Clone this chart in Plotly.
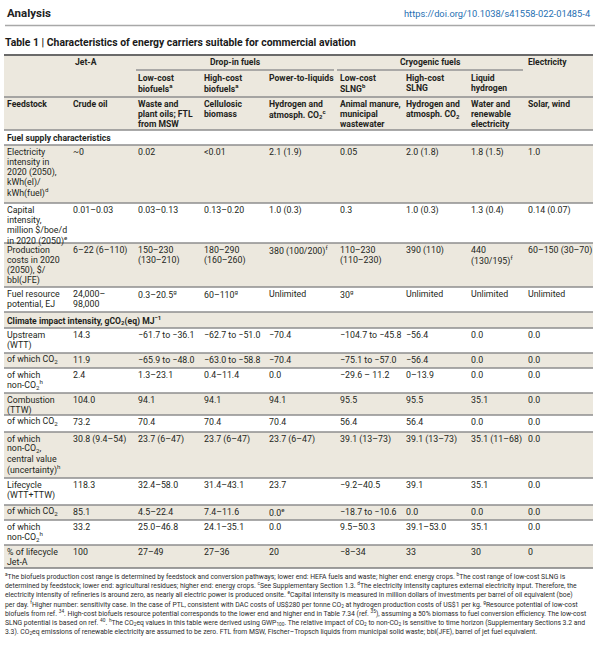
import plotly.graph_objects as go

W, H = 600, 646

# ---------------- data ----------------
page_header = "Analysis"
doi_text = "https://doi.org/10.1038/s41558-022-01485-4"
table_title = "Table 1 | Characteristics of energy carriers suitable for commercial aviation"

group_headers = ["Jet-A", "Drop-in fuels", "Cryogenic fuels", "Electricity"]
sub_headers = ["", "", "Low-cost<br>biofuels<sup>a</sup>", "High-cost<br>biofuels<sup>a</sup>",
               "Power-to-liquids", "Low-cost<br>SLNG<sup>b</sup>", "High-cost<br>SLNG",
               "Liquid<br>hydrogen", ""]
feedstock_row = ["Feedstock", "Crude oil", "Waste and<br>plant oils; FTL<br>from MSW",
                 "Cellulosic<br>biomass", "Hydrogen and<br>atmosph. CO<sub>2</sub><sup>c</sup>",
                 "Animal manure,<br>municipal<br>wastewater", "Hydrogen and<br>atmosph. CO<sub>2</sub>",
                 "Water and<br>renewable<br>electricity", "Solar, wind"]

section_titles = ["Fuel supply characteristics",
                  "Climate impact intensity, gCO<sub>2</sub>(eq) MJ<sup>−1</sup>"]

row_labels = [
    "Electricity<br>intensity in<br>2020 (2050),<br>kWh(el)/<br>kWh(fuel)<sup>d</sup>",
    "Capital<br>intensity,<br>million $/boe/d<br>in 2020 (2050)<sup>e</sup>",
    "Production<br>costs in 2020<br>(2050), $/<br>bbl(JFE)",
    "Fuel resource<br>potential, EJ",
    "Upstream<br>(WTT)",
    "of which CO<sub>2</sub>",
    "of which<br>non-CO<sub>2</sub><sup>h</sup>",
    "Combustion<br>(TTW)",
    "of which CO<sub>2</sub>",
    "of which<br>non-CO<sub>2</sub>,<br>central value<br>(uncertainty)<sup>h</sup>",
    "Lifecycle<br>(WTT+TTW)",
    "of which CO<sub>2</sub>",
    "of which<br>non-CO<sub>2</sub><sup>h</sup>",
    "% of lifecycle<br>Jet-A",
]
jet_a = ["~0", "0.01–0.03", "6–22 (6–110)", "24,000–<br>98,000", "14.3", "11.9", "2.4",
         "104.0", "73.2", "30.8 (9.4–54)", "118.3", "85.1", "33.2", "100"]
low_cost_biofuels = ["0.02", "0.03–0.13", "150–230<br>(130–210)", "0.3–20.5<sup>g</sup>",
                     "−61.7 to −36.1", "−65.9 to −48.0", "1.3–23.1", "94.1", "70.4",
                     "23.7 (6–47)", "32.4–58.0", "4.5–22.4", "25.0–46.8", "27–49"]
high_cost_biofuels = ["<0.01", "0.13–0.20", "180–290<br>(160–260)", "60–110<sup>g</sup>",
                      "−62.7 to −51.0", "−63.0 to −58.8", "0.4–11.4", "94.1", "70.4",
                      "23.7 (6–47)", "31.4–43.1", "7.4–11.6", "24.1–35.1", "27–36"]
power_to_liquids = ["2.1 (1.9)", "1.0 (0.3)", "380 (100/200)<sup>f</sup>", "Unlimited",
                    "−70.4", "−70.4", "0.0", "94.1", "70.4", "23.7 (6–47)", "23.7",
                    "0.0<sup>e</sup>", "0.0", "20"]
low_cost_slng = ["0.05", "0.3", "110–230<br>(110–230)", "30<sup>g</sup>", "−104.7 to −45.8",
                 "−75.1 to −57.0", "−29.6 – 11.2", "95.5", "56.4", "39.1 (13–73)",
                 "−9.2–40.5", "−18.7 to −10.6", "9.5–50.3", "−8–34"]
high_cost_slng = ["2.0 (1.8)", "1.0 (0.3)", "390 (110)", "Unlimited", "−56.4", "−56.4",
                  "0–13.9", "95.5", "56.4", "39.1 (13–73)", "39.1", "0.0", "39.1–53.0", "33"]
liquid_hydrogen = ["1.8 (1.5)", "1.3 (0.4)", "440<br>(130/195)<sup>f</sup>", "Unlimited",
                   "0.0", "0.0", "0.0", "35.1", "0.0", "35.1 (11–68)", "35.1", "0.0",
                   "35.1", "30"]
electricity = ["1.0", "0.14 (0.07)", "60–150 (30–70)", "Unlimited", "0.0", "0.0", "0.0",
               "0.0", "0.0", "0.0", "0.0", "0.0", "0.0", "0"]

footnotes = [
    "<sup>a</sup>The biofuels production cost range is determined by feedstock and conversion pathways; lower end: HEFA fuels and waste; higher end: energy crops. <sup>b</sup>The cost range of low-cost SLNG is",
    "determined by feedstock; lower end: agricultural residues; higher end: energy crops. <sup>c</sup>See Supplementary Section 1.3. <sup>d</sup>The electricity intensity captures external electricity input. Therefore, the",
    "electricity intensity of refineries is around zero, as nearly all electric power is produced onsite. <sup>e</sup>Capital intensity is measured in million dollars of investments per barrel of oil equivalent (boe)",
    "per day. <sup>f</sup>Higher number: sensitivity case. In the case of PTL, consistent with DAC costs of US$280 per tonne CO<sub>2</sub> at hydrogen production costs of US$1 per kg. <sup>g</sup>Resource potential of low-cost",
    "biofuels from ref. <sup>34</sup>. High-cost biofuels resource potential corresponds to the lower end and higher end in Table 7.34 (ref. <sup>35</sup>), assuming a 50% biomass to fuel conversion efficiency. The low-cost",
    "SLNG potential is based on ref. <sup>40</sup>. <sup>h</sup>The CO<sub>2</sub>eq values in this table were derived using GWP<sub>100</sub>. The relative impact of CO<sub>2</sub> to non-CO<sub>2</sub> is sensitive to time horizon (Supplementary Sections 3.2 and",
    "3.3). CO<sub>2</sub>eq emissions of renewable electricity are assumed to be zero. FTL from MSW, Fischer–Tropsch liquids from municipal solid waste; bbl(JFE), barrel of jet fuel equivalent.",
]

# ---------------- layout (positions / styles) ----------------
FONT = "Roboto"
TXT = "#231f20"
BEIGE = "#ECE8DE"
LINE = "#8e8e8e"
FS = 8.8
FS_HEAD = 8.6
LH = 10.0

col_x = [7, 73, 138, 204, 269, 340, 406, 471, 528]
tx0, tx1 = 4, 593
header_top, group_line_y, sub_top, feed_top, header_bot = 55, 70, 70, 97, 130
section_spans = [(130, 145), (312, 328)]
row_tops = [145, 203, 243, 287, 328, 353, 368, 393, 415, 432, 478, 505, 520, 545]
table_bottom = 568
group_spans = [(75, None), (136, 334), (337, 523), (528, None)]
foot_y0, foot_dy, foot_fs = 576, 9.3, 6.8

fig = go.Figure()
fig.add_trace(go.Scatter(x=[0, W], y=[0, H], mode="markers",
                         marker=dict(opacity=0), hoverinfo="skip", showlegend=False))

shapes = []
annotations = []


def rect(y0, y1, color):
    shapes.append(dict(type="rect", xref="x", yref="y", x0=tx0, x1=tx1, y0=y0, y1=y1,
                       fillcolor=color, line=dict(width=0), layer="below"))


def hline(y, x0=tx0, x1=tx1, color=LINE, width=1.3):
    shapes.append(dict(type="line", xref="x", yref="y", x0=x0, x1=x1, y0=y, y1=y,
                       line=dict(color=color, width=width), layer="above"))


def text(x, y, s, size=FS, bold=False, color=TXT, xanchor="left"):
    if s == "":
        return
    annotations.append(dict(x=x, y=y, xref="x", yref="y", text=("<b>%s</b>" % s) if bold else s,
                            showarrow=False, xanchor=xanchor, yanchor="middle", align="left",
                            borderpad=0, borderwidth=0,
                            font=dict(family=FONT, size=size, color=color)))


def cell(x, top, s, bold=False, off=7.2, size=FS):
    for i, line in enumerate(s.split("<br>")):
        text(x, top + off + i * LH, line, bold=bold, size=size)


# page header
text(7, 13, page_header, size=11.5, bold=True, color="#222")
text(591, 13, doi_text, size=9.3, color="#1f6fb2", xanchor="right")
hline(25.5, 5, 595, color="#a8a8a8", width=1.6)
text(5, 42, table_title, size=10.4, bold=True, color="#1a1a1a")

# header background
rect(header_top, header_bot, BEIGE)
hline(header_top, color="#6a6a6a", width=2)

# group headers
for (gx0, gx1), g in zip(group_spans, group_headers):
    if gx1 is None:
        text(gx0, 62, g, bold=True, size=FS_HEAD)
    else:
        text((gx0 + gx1) / 2, 62, g, bold=True, xanchor="center", size=FS_HEAD)
        hline(group_line_y, gx0, gx1, color="#959595", width=1.6)

for x, s in zip(col_x, sub_headers):
    cell(x, sub_top, s, bold=True, off=8, size=FS_HEAD)
hline(feed_top)
for x, s in zip(col_x, feedstock_row):
    cell(x, feed_top, s, bold=True, off=7.3, size=FS_HEAD)

# sections
for (s0, s1), title, shade in zip(section_spans, section_titles, [None, BEIGE]):
    if shade:
        rect(s0, s1, shade)
    hline(s0)
    text(col_x[0], (s0 + s1) / 2, title, bold=True, size=FS_HEAD)

# body rows
columns = [row_labels, jet_a, low_cost_biofuels, high_cost_biofuels, power_to_liquids,
           low_cost_slng, high_cost_slng, liquid_hydrogen, electricity]
bottoms = row_tops[1:] + [table_bottom]
shade_rows = [0, 2, 5, 7, 9, 11, 13]
for r, (top, bot) in enumerate(zip(row_tops, bottoms)):
    if r in shade_rows:
        rect(top, bot, BEIGE)
    hline(top)
    for x, col in zip(col_x, columns):
        cell(x, top, col[r])
hline(table_bottom, color="#7e7e7e", width=1.5)

# footnotes
for i, f in enumerate(footnotes):
    text(5, foot_y0 + i * foot_dy, f, size=foot_fs, color="#2a2a2a")

fig.update_layout(
    width=W, height=H, margin=dict(l=0, r=0, t=0, b=0),
    paper_bgcolor="white", plot_bgcolor="white",
    xaxis=dict(range=[0, W], visible=False, fixedrange=True),
    yaxis=dict(range=[H, 0], visible=False, fixedrange=True),
    shapes=shapes, annotations=annotations, showlegend=False,
)
fig.write_html(
    "out.html",
    config={"displayModeBar": False, "staticPlot": True},
    post_script="document.body.style.margin='0';document.body.style.overflow='hidden';"
                "document.documentElement.style.overflow='hidden';",
)
